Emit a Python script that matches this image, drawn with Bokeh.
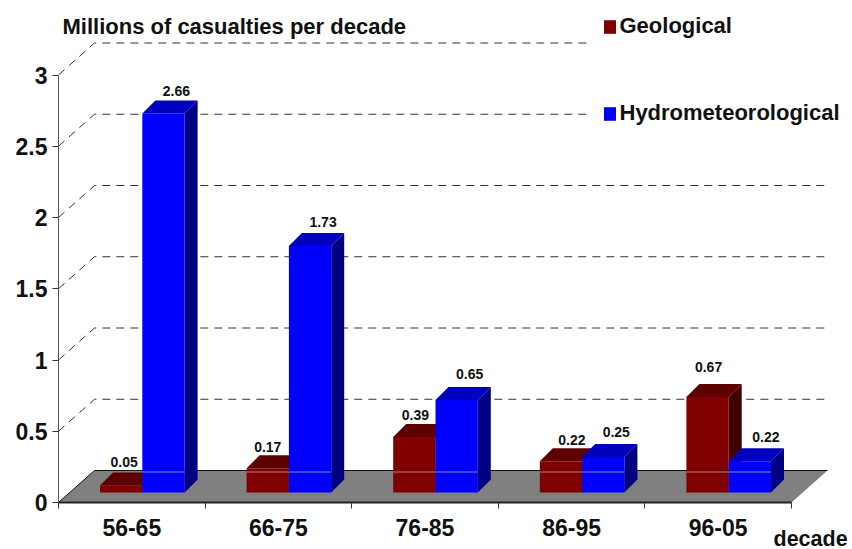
from bokeh.plotting import figure
from bokeh.models import Range1d, FixedTicker, Label, Legend, LegendItem
from bokeh.core.properties import value
from bokeh.embed import file_html
from bokeh.resources import INLINE

# ---- data ----
decades = ["56-65", "66-75", "76-85", "86-95", "96-05"]
geological = [0.05, 0.17, 0.39, 0.22, 0.67]
hydromet = [2.66, 1.73, 0.65, 0.25, 0.22]
y_ticks = [0, 0.5, 1, 1.5, 2, 2.5, 3]
y_tick_labels = ["0", "0.5", "1", "1.5", "2", "2.5", "3"]

# ---- layout (pixels per data unit, 3-D projection) ----
PX_X, PX_Y = 146.6, 142.5
W, H = 852, 549
ORIGIN_X, ORIGIN_Y = 58, 502
FONT = "Liberation Sans"
WALL_DX, WALL_DY = 36 / PX_X, 32 / PX_Y
BAR_DX, BAR_DY = 13 / PX_X, 13 / PX_Y
BAR_BASE = 10 / PX_Y
BAR_LEFT, BAR_W = 41.5 / PX_X, 42.3 / PX_X
GEO_NUDGE = [(3, 10), (0, 8.5), (1, 9), (11, 8.5), (1, 17)]
HYD_NUDGE = [(13, 9), (13, 11), (13, 13), (13, 12), (16, 11)]
GRID_END_UNDER_LEGEND = 587


def X(px):
    return (px - ORIGIN_X) / PX_X


def Y(py):
    return (ORIGIN_Y - py) / PX_Y


p = figure(width=W, height=H, output_backend="svg", toolbar_location=None,
           x_range=Range1d(X(0), X(W)), y_range=Range1d(Y(H), Y(0)),
           min_border_left=0, min_border_right=0, min_border_top=0, min_border_bottom=0,
           outline_line_color=None, background_fill_color="white")
p.grid.visible = False

# floor
n = len(decades)
p.patch([0, n, n + WALL_DX, WALL_DX], [0, 0, WALL_DY, WALL_DY],
        fill_color="#808080", line_color=None)
p.line([0, WALL_DX, n + WALL_DX], [0, WALL_DY, WALL_DY], line_color="#111111", line_width=1)

# dashed wall grid (the two upper lines stop where the legend starts)
gx, gy = [], []
for t in y_ticks[1:]:
    end = X(GRID_END_UNDER_LEGEND) if t >= 2.5 else n + WALL_DX
    gx.append([0, WALL_DX, end])
    gy.append([t, t + WALL_DY, t + WALL_DY])
p.multi_line(gx, gy, line_color="#333333", line_width=1, line_dash="8 6")

legend_items = []
for name, vals, shift, cols, nudge in [
    ("Geological", geological, 0, ("#800000", "#5c0000", "#400000"), GEO_NUDGE),
    ("Hydrometeorological", hydromet, 1, ("#0000ff", "#0000bf", "#000080"), HYD_NUDGE),
]:
    lefts = [i + BAR_LEFT + shift * BAR_W for i in range(n)]
    rights = [l + BAR_W for l in lefts]
    tops = [BAR_BASE + v for v in vals]
    p.patches([[r, r + BAR_DX, r + BAR_DX, r] for r in rights],
              [[BAR_BASE, BAR_BASE + BAR_DY, t + BAR_DY, t] for t in tops],
              fill_color=cols[2], line_color=None)
    p.patches([[l, r, r + BAR_DX, l + BAR_DX] for l, r in zip(lefts, rights)],
              [[t, t, t + BAR_DY, t + BAR_DY] for t in tops],
              fill_color=cols[1], line_color=None)
    front = p.quad(left=lefts, right=rights, bottom=BAR_BASE, top=tops,
                   fill_color=cols[0], line_color=None)
    legend_items.append(LegendItem(label=name, renderers=[front]))
    # faint floor edge that shows through the front faces
    for l, r, t in zip(lefts, rights, tops):
        if t > WALL_DY:
            p.line([l, r], [WALL_DY - 1.5 / PX_Y] * 2, line_color="#a8a8a8", line_width=1, line_alpha=0.8)
    p.text([(l + r) / 2 for l, r in zip(lefts, rights)], tops,
           text=[f"{v:.2f}" for v in vals],
           x_offset=[a for a, b in nudge], y_offset=[-(13 + b) for a, b in nudge],
           text_align="center", text_baseline="middle",
           text_font=value(FONT), text_font_style="bold", text_font_size="14px",
           text_color="#111111")

# axes sit inside the frame, on the zero lines
ax = p.xaxis[0]
ax.fixed_location = 0
ax.bounds = (0, n)
ax.ticker = FixedTicker(ticks=[i + 0.5 for i in range(n)], minor_ticks=list(range(n + 1)))
ax.major_label_overrides = {i + 0.5: d for i, d in enumerate(decades)}
ax.major_tick_line_color = None
ax.minor_tick_in, ax.minor_tick_out = 0, 6
ax.minor_tick_line_color = "#333333"
ax.axis_line_color = "#222222"
ax.axis_line_width = 2
ax.major_label_standoff = 10
ax.major_label_text_font = FONT
ax.major_label_text_font_style = "bold"
ax.major_label_text_font_size = "23px"
ax.major_label_text_color = "#111111"

ay = p.yaxis[0]
ay.fixed_location = 0
ay.bounds = (0, 3)
ay.ticker = FixedTicker(ticks=y_ticks)
ay.major_label_overrides = dict(zip(y_ticks, y_tick_labels))
ay.minor_tick_line_color = None
ay.major_tick_in, ay.major_tick_out = 0, 6
ay.major_tick_line_color = "#333333"
ay.axis_line_color = "#555555"
ay.major_label_standoff = 5
ay.major_label_text_font = FONT
ay.major_label_text_font_style = "bold"
ay.major_label_text_font_size = "23px"
ay.major_label_text_color = "#111111"

# legend
legend = Legend(items=legend_items, location=(601.5, 423), orientation="vertical",
                background_fill_alpha=0, border_line_color=None,
                glyph_width=15, glyph_height=17, label_standoff=3, spacing=61,
                padding=0, margin=0,
                label_text_font=FONT, label_text_font_style="bold",
                label_text_font_size="22px", label_text_color="#111111")
p.add_layout(legend)

# texts
p.add_layout(Label(x=X(62), y=Y(25.5), text="Millions of casualties per decade",
                   text_font=FONT, text_font_style="bold", text_font_size="22px",
                   text_color="#111111", text_baseline="middle"))
p.add_layout(Label(x=X(773), y=Y(538), text="decade",
                   text_font=FONT, text_font_style="bold", text_font_size="21.5px",
                   text_color="#111111", text_baseline="middle"))

open("out.html", "w").write(file_html(p, INLINE))
